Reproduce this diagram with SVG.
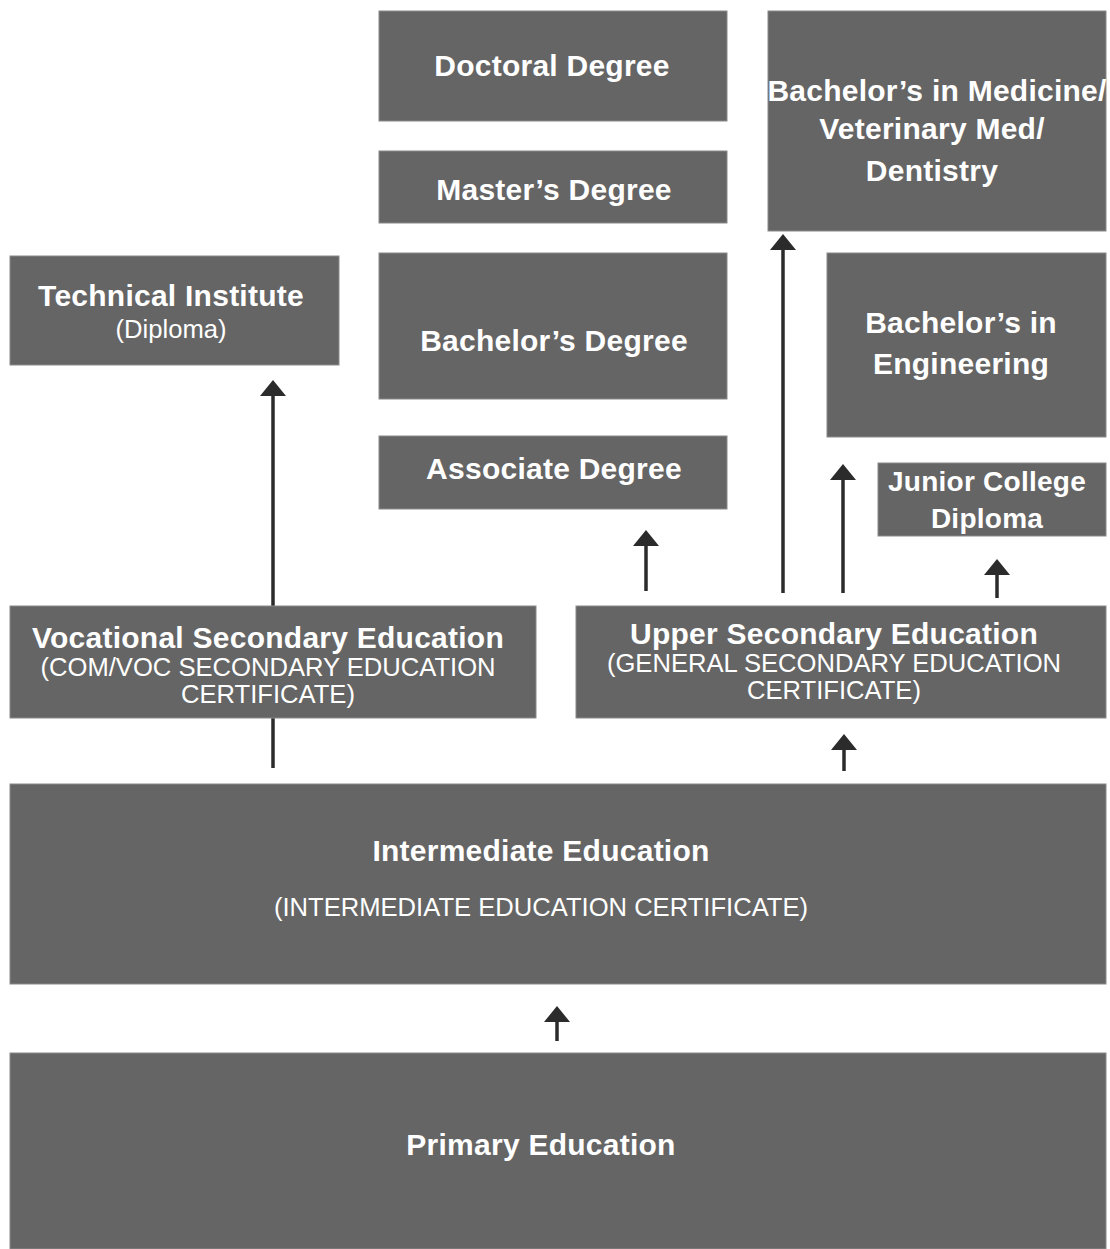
<svg xmlns="http://www.w3.org/2000/svg" width="1110" height="1249" viewBox="0 0 1110 1249">
<defs>
<style>
.box{fill:#656565;stroke:#8a8a8a;stroke-width:1}
.t{font-family:"Liberation Sans",Arial,sans-serif;font-weight:bold;font-size:30px;letter-spacing:0.25px;fill:#ffffff;text-anchor:middle}
.s{font-family:"Liberation Sans",Arial,sans-serif;font-size:25.6px;fill:#ffffff;text-anchor:middle}
.ln{stroke:#2b2b2b;stroke-width:3.5;fill:none}
.ah{fill:#2b2b2b}
</style>
</defs>
<rect width="1110" height="1249" fill="#ffffff"/>
<g id="connectors">
<line class="ln" x1="273" y1="768" x2="273" y2="395"/>
<path class="ah" d="M260,396 L273,380 L286,396 Z"/>
<line class="ln" x1="646" y1="591" x2="646" y2="545"/>
<path class="ah" d="M633,546 L646,530 L659,546 Z"/>
<line class="ln" x1="783" y1="593" x2="783" y2="249"/>
<path class="ah" d="M770,250 L783,234 L796,250 Z"/>
<line class="ln" x1="843" y1="593" x2="843" y2="479"/>
<path class="ah" d="M830,480 L843,464 L856,480 Z"/>
<line class="ln" x1="997" y1="598" x2="997" y2="574"/>
<path class="ah" d="M984,575 L997,559 L1010,575 Z"/>
<line class="ln" x1="844" y1="771" x2="844" y2="749"/>
<path class="ah" d="M831,750 L844,734 L857,750 Z"/>
<line class="ln" x1="557" y1="1041" x2="557" y2="1021"/>
<path class="ah" d="M544,1022 L557,1006 L570,1022 Z"/>
</g>
<g id="doctoral">
<rect class="box" x="379" y="11" width="348" height="110"/>
<text class="t" x="552" y="76">Doctoral Degree</text>
</g>
<g id="masters">
<rect class="box" x="379" y="151" width="348" height="72"/>
<text class="t" x="554" y="200">Master’s Degree</text>
</g>
<g id="bachelors">
<rect class="box" x="379" y="253" width="348" height="146"/>
<text class="t" x="554" y="351">Bachelor’s Degree</text>
</g>
<g id="associate">
<rect class="box" x="379" y="436" width="348" height="73"/>
<text class="t" x="554" y="479">Associate Degree</text>
</g>
<g id="medicine">
<rect class="box" x="768" y="11" width="338" height="220"/>
<text class="t" x="937" y="101">Bachelor’s in Medicine/</text>
<text class="t" x="932" y="139">Veterinary Med/</text>
<text class="t" x="932" y="181">Dentistry</text>
</g>
<g id="engineering">
<rect class="box" x="827" y="253" width="279" height="184"/>
<text class="t" x="961" y="333">Bachelor’s in</text>
<text class="t" x="961" y="374">Engineering</text>
</g>
<g id="junior">
<rect class="box" x="878" y="463" width="228" height="73"/>
<text class="t" x="987" y="491" style="font-size:28px">Junior College</text>
<text class="t" x="987" y="528" style="font-size:28px">Diploma</text>
</g>
<g id="technical">
<rect class="box" x="10" y="256" width="329" height="109"/>
<text class="t" x="171" y="306">Technical Institute</text>
<text class="s" x="171" y="338">(Diploma)</text>
</g>
<g id="vocational">
<rect class="box" x="10" y="606" width="526" height="112"/>
<text class="t" x="268" y="648">Vocational Secondary Education</text>
<text class="s" x="268" y="676">(COM/VOC SECONDARY EDUCATION</text>
<text class="s" x="268" y="703">CERTIFICATE)</text>
</g>
<g id="upper">
<rect class="box" x="576" y="606" width="530" height="112"/>
<text class="t" x="834" y="644">Upper Secondary Education</text>
<text class="s" x="834" y="672">(GENERAL SECONDARY EDUCATION</text>
<text class="s" x="834" y="699">CERTIFICATE)</text>
</g>
<g id="intermediate">
<rect class="box" x="10" y="784" width="1096" height="200"/>
<text class="t" x="541" y="861">Intermediate Education</text>
<text class="s" x="541" y="916">(INTERMEDIATE EDUCATION CERTIFICATE)</text>
</g>
<g id="primary">
<rect class="box" x="10" y="1053" width="1096" height="196"/>
<text class="t" x="541" y="1155">Primary Education</text>
</g>
</svg>
